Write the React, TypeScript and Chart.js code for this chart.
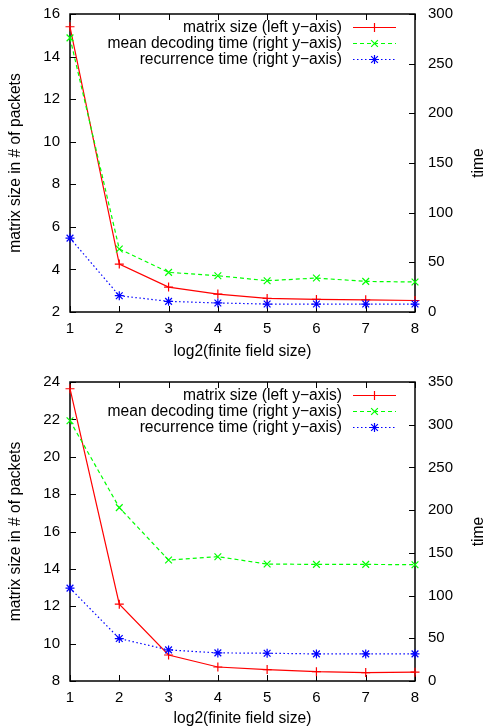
import React, { useEffect, useRef } from 'react';
import { Chart, registerables } from 'chart.js';

Chart.register(...registerables);

const categories = ['1', '2', '3', '4', '5', '6', '7', '8'];

const topMatrixSize = [15.4, 4.25, 3.17, 2.84, 2.64, 2.59, 2.57, 2.54];
const topDecodingTime = [276, 63.4, 39.9, 36.5, 31.5, 34.2, 30.8, 30.2];
const topRecurrenceTime = [74.4, 16.4, 10.7, 9.1, 8.0, 8.0, 8.0, 8.0];

const bottomMatrixSize = [23.64, 12.11, 9.39, 8.75, 8.61, 8.5, 8.45, 8.47];
const bottomDecodingTime = [304.6, 203, 141.6, 145.5, 136.9, 136.5, 136.5, 136.1];
const bottomRecurrenceTime = [108.7, 49.7, 36.4, 32.9, 32.5, 31.7, 31.7, 31.7];

const legendLabels = [
  'matrix size (left y\u2212axis)',
  'mean decoding time (right y\u2212axis)',
  'recurrence time (right y\u2212axis)',
];
const xTitle = 'log2(finite field size)';
const leftTitle = 'matrix size in # of packets';
const rightTitle = 'time';

const topLeftRange = [2, 16, 2];
const topRightRange = [0, 300, 50];
const bottomLeftRange = [8, 24, 2];
const bottomRightRange = [0, 350, 50];

const FONT_FAMILY = '"Liberation Sans", Arial, Helvetica, sans-serif';
const FONT_SIZE = 15;
const TEXT_SIZE = 15.6;
const RED = '#ff0000';
const GREEN = '#00ff00';
const BLUE = '#0000ff';

function drawMarker(ctx: CanvasRenderingContext2D, style: string, x: number, y: number, r: number, color: string) {
  ctx.save();
  ctx.setLineDash([]);
  ctx.strokeStyle = color;
  ctx.lineWidth = 1.2;
  ctx.beginPath();
  const plus = () => {
    ctx.moveTo(x - r, y); ctx.lineTo(x + r, y);
    ctx.moveTo(x, y - r); ctx.lineTo(x, y + r);
  };
  const cross = (rr: number) => {
    ctx.moveTo(x - rr, y - rr); ctx.lineTo(x + rr, y + rr);
    ctx.moveTo(x - rr, y + rr); ctx.lineTo(x + rr, y - rr);
  };
  if (style === 'cross') plus();
  else if (style === 'crossRot') cross(r * 0.75);
  else { plus(); cross(r * 0.75); }
  ctx.stroke();
  ctx.restore();
}

const gnuplotPlugin = {
  id: 'gnuplotDecor',
  beforeDatasetsDraw(chart: any) {
    const { ctx, chartArea } = chart;
    const { left, right, top, bottom } = chartArea;
    ctx.save();
    ctx.strokeStyle = '#000';
    ctx.lineWidth = 1.5;
    ctx.setLineDash([]);
    ctx.strokeRect(left, top, right - left, bottom - top);
    ctx.lineWidth = 1;
    const tl = 6;
    ctx.beginPath();
    const yL = chart.scales.yL;
    yL.ticks.forEach((t: any) => {
      const y = Math.round(yL.getPixelForValue(t.value)) + 0.5;
      ctx.moveTo(left, y); ctx.lineTo(left + tl, y);
    });
    const yR = chart.scales.yR;
    yR.ticks.forEach((t: any) => {
      const y = Math.round(yR.getPixelForValue(t.value)) + 0.5;
      ctx.moveTo(right, y); ctx.lineTo(right - tl, y);
    });
    const xs = chart.scales.x;
    xs.ticks.forEach((_t: any, i: number) => {
      const x = Math.round(xs.getPixelForTick(i)) + 0.5;
      ctx.moveTo(x, bottom); ctx.lineTo(x, bottom - tl);
      ctx.moveTo(x, top); ctx.lineTo(x, top + tl);
    });
    ctx.stroke();
    ctx.restore();
  },
  afterDatasetsDraw(chart: any) {
    const { ctx, chartArea } = chart;
    const { left, right, top, bottom } = chartArea;
    ctx.save();
    chart.data.datasets.forEach((ds: any, di: number) => {
      const meta = chart.getDatasetMeta(di);
      meta.data.forEach((pt: any) => {
        drawMarker(ctx, ds.markerStyle, pt.x, pt.y, 4.5, ds.borderColor);
      });
    });
    ctx.font = `${TEXT_SIZE}px ${FONT_FAMILY}`;
    ctx.fillStyle = '#000';
    ctx.textBaseline = 'middle';
    ctx.textAlign = 'right';
    chart.data.datasets.forEach((ds: any, i: number) => {
      const y = Math.round(top + 13 + 16 * i) + 0.5;
      ctx.fillText(ds.label, 342, y);
      ctx.save();
      ctx.strokeStyle = ds.borderColor;
      ctx.lineWidth = 1.2;
      ctx.setLineDash(ds.borderDash || []);
      ctx.beginPath();
      ctx.moveTo(353, y);
      ctx.lineTo(396, y);
      ctx.stroke();
      ctx.restore();
      drawMarker(ctx, ds.markerStyle, 374.5, y, 4.5, ds.borderColor);
    });
    const cy = (top + bottom) / 2;
    ctx.textAlign = 'center';
    ctx.fillText(xTitle, (left + right) / 2, chart.options.xTitleY);
    ctx.save();
    ctx.translate(16, cy);
    ctx.rotate(-Math.PI / 2);
    ctx.fillText(leftTitle, 0, 0);
    ctx.restore();
    ctx.save();
    ctx.translate(479, cy);
    ctx.rotate(-Math.PI / 2);
    ctx.fillText(rightTitle, 0, 0);
    ctx.restore();
    ctx.restore();
  },
};

type PanelProps = {
  height: number;
  plotTop: number;
  plotBottom: number;
  xTitleY: number;
  matrix: number[];
  decoding: number[];
  recurrence: number[];
  leftRange: number[];
  rightRange: number[];
};

function zeroPad(s: any) {
  s.paddingTop = 0;
  s.paddingBottom = 0;
  s.paddingLeft = 0;
  s.paddingRight = 0;
}

function Panel(p: PanelProps) {
  const ref = useRef<HTMLCanvasElement | null>(null);
  useEffect(() => {
    if (!ref.current) return;
    const font = { family: FONT_FAMILY, size: FONT_SIZE };
    const common = {
      fill: false,
      tension: 0,
      borderWidth: 1.2,
      pointRadius: 0,
      pointHoverRadius: 0,
      clip: false,
    };
    const chart = new Chart(ref.current, {
      type: 'line',
      data: {
        labels: categories,
        datasets: [
          { ...common, label: legendLabels[0], data: p.matrix, yAxisID: 'yL', borderColor: RED, backgroundColor: RED, markerStyle: 'cross', order: 3 } as any,
          { ...common, label: legendLabels[1], data: p.decoding, yAxisID: 'yR', borderColor: GREEN, backgroundColor: GREEN, borderDash: [4, 3], markerStyle: 'crossRot', order: 2 } as any,
          { ...common, label: legendLabels[2], data: p.recurrence, yAxisID: 'yR', borderColor: BLUE, backgroundColor: BLUE, borderDash: [1.5, 2.5], markerStyle: 'star', order: 1 } as any,
        ],
      },
      options: {
        responsive: false,
        animation: false,
        xTitleY: p.xTitleY,
        events: [],
        layout: { padding: { top: p.plotTop, left: 0, right: 0, bottom: 0 } },
        plugins: { legend: { display: false }, tooltip: { enabled: false } },
        scales: {
          x: {
            type: 'category',
            offset: false,
            grid: { display: false, drawTicks: false },
            border: { display: false },
            ticks: { font, color: '#000', padding: 8, maxRotation: 0, autoSkip: false },
            afterFit: (s: any) => { s.height = p.height - p.plotBottom; zeroPad(s); },
          },
          yL: {
            type: 'linear',
            position: 'left',
            min: p.leftRange[0],
            max: p.leftRange[1],
            grid: { display: false, drawTicks: false },
            border: { display: false },
            ticks: { stepSize: p.leftRange[2], font, color: '#000', padding: 10 },
            afterFit: (s: any) => { s.width = 70; zeroPad(s); },
          },
          yR: {
            type: 'linear',
            position: 'right',
            min: p.rightRange[0],
            max: p.rightRange[1],
            grid: { display: false, drawTicks: false },
            border: { display: false },
            ticks: { stepSize: p.rightRange[2], font, color: '#000', padding: 13 },
            afterFit: (s: any) => { s.width = 70; zeroPad(s); },
          },
        },
      } as any,
      plugins: [gnuplotPlugin],
    });
    return () => chart.destroy();
  }, []);
  return <canvas ref={ref} width={485} height={p.height} style={{ display: 'block', width: 485, height: p.height }} />;
}

export default function App() {
  return (
    <div style={{ position: 'absolute', left: 0, top: 0, width: 485, background: '#fff' }}>
      <Panel
        height={363}
        plotTop={14}
        plotBottom={312}
        xTitleY={352}
        matrix={topMatrixSize}
        decoding={topDecodingTime}
        recurrence={topRecurrenceTime}
        leftRange={topLeftRange}
        rightRange={topRightRange}
      />
      <Panel
        height={364}
        plotTop={19}
        plotBottom={318}
        xTitleY={356}
        matrix={bottomMatrixSize}
        decoding={bottomDecodingTime}
        recurrence={bottomRecurrenceTime}
        leftRange={bottomLeftRange}
        rightRange={bottomRightRange}
      />
    </div>
  );
}
